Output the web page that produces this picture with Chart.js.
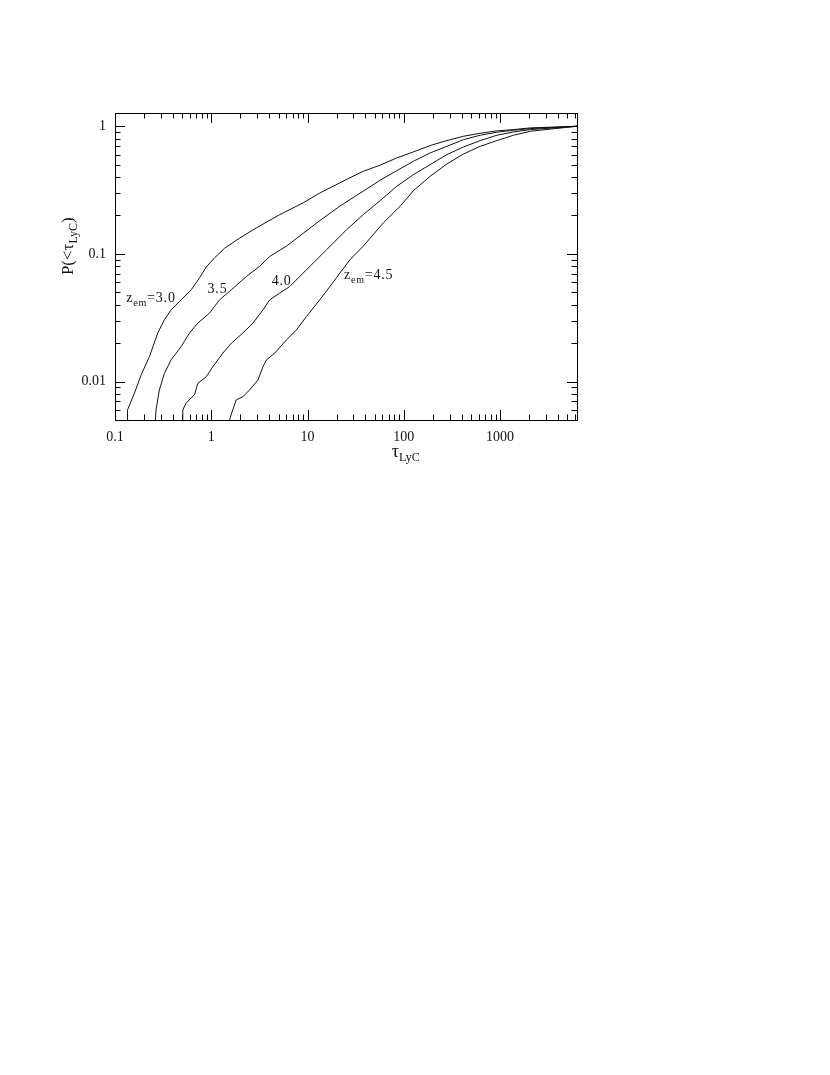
<!DOCTYPE html>
<html>
<head>
<meta charset="utf-8">
<script src="https://cdn.jsdelivr.net/npm/chart.js@4/dist/chart.umd.min.js"></script>
<style>
  html, body { margin: 0; padding: 0; background: #fff; }
  #wrap { width: 830px; height: 1075px; }
</style>
</head>
<body>
<div id="wrap"><canvas id="cdfChart" width="830" height="1075"></canvas></div>
<script>
// Cumulative distributions P(<tau_LyC) for four emission redshifts
const z30Tau = [0.135, 0.135, 0.159, 0.187, 0.228, 0.278, 0.326, 0.383, 0.487, 0.619, 0.756, 0.887, 1.08, 1.38, 1.97, 2.94, 5.14, 9.0, 13.4, 26.5, 37.9, 56.6, 84.6, 126, 188, 281, 418, 624, 931, 1387, 2070, 6300];
const z30P   = [0.005, 0.006, 0.0081, 0.0113, 0.0157, 0.024, 0.0305, 0.0365, 0.0437, 0.0524, 0.065, 0.079, 0.093, 0.111, 0.133, 0.160, 0.203, 0.251, 0.30, 0.389, 0.444, 0.495, 0.565, 0.630, 0.706, 0.773, 0.835, 0.882, 0.920, 0.942, 0.971, 1.0];

const z35Tau = [0.263, 0.267, 0.289, 0.326, 0.383, 0.487, 0.594, 0.725, 0.96, 1.22, 1.62, 2.32, 3.18, 4.05, 6.04, 9.0, 13.4, 21.7, 37.9, 56.6, 84.6, 126, 188, 281, 418, 624, 931, 1387, 2070, 6300];
const z35P   = [0.005, 0.006, 0.0086, 0.0116, 0.0148, 0.0188, 0.024, 0.0287, 0.0344, 0.0437, 0.0524, 0.0666, 0.080, 0.0955, 0.115, 0.145, 0.182, 0.237, 0.31, 0.377, 0.449, 0.532, 0.618, 0.697, 0.786, 0.851, 0.898, 0.931, 0.959, 1.0];

const z40Tau = [0.499, 0.506, 0.549, 0.67, 0.725, 0.887, 1.04, 1.32, 1.62, 2.13, 2.71, 3.45, 4.05, 5.14, 6.54, 8.3, 10.6, 15.8, 25.5, 37.9, 56.6, 84.6, 126, 188, 281, 418, 624, 931, 1387, 2070, 6300];
const z40P   = [0.005, 0.006, 0.0068, 0.0079, 0.0097, 0.0109, 0.0131, 0.0167, 0.020, 0.024, 0.0287, 0.0365, 0.0437, 0.0493, 0.0556, 0.0666, 0.08, 0.108, 0.155, 0.203, 0.261, 0.339, 0.418, 0.501, 0.600, 0.689, 0.773, 0.851, 0.903, 0.942, 1.0];

const z45Tau = [1.55, 1.62, 1.82, 2.13, 2.5, 3.06, 3.45, 3.74, 4.56, 6.04, 7.68, 9.77, 13.4, 17.1, 21.7, 27.6, 37.9, 61.3, 91.5, 126, 188, 281, 418, 624, 931, 1387, 2070, 6300];
const z45P   = [0.005, 0.0056, 0.0072, 0.0076, 0.0086, 0.0103, 0.0131, 0.0148, 0.0167, 0.0212, 0.0254, 0.0324, 0.0437, 0.0556, 0.0708, 0.090, 0.115, 0.175, 0.236, 0.313, 0.406, 0.507, 0.607, 0.697, 0.773, 0.851, 0.914, 1.0];

// axis ticks
const xTicks = [0.1, 1, 10, 100, 1000];
const xTickLabels = ['0.1', '1', '10', '100', '1000'];
const yTicks = [0.01, 0.1, 1];
const yTickLabels = ['0.01', '0.1', '1'];

// curve labels: main text, subscript, rest, anchored at (tau, P)
const curveLabelTau = [0.131, 0.915, 4.25, 23.9];
const curveLabelP = [0.0445, 0.0524, 0.0605, 0.0675];
const curveLabelText = [['z', 'em', '=3.0'], ['', '', '3.5'], ['', '', '4.0'], ['z', 'em', '=4.5']];

const X_MIN = 0.1, X_MAX = 6300;
const Y_MIN = 0.005, Y_MAX = 1.27;
const FONT = "'Liberation Serif', 'DejaVu Serif', serif";

function toPoints(xs, ys) {
    return xs.map((x, i) => ({ x: x, y: ys[i] }));
}

function curve(xs, ys) {
    return {
        data: toPoints(xs, ys),
        borderColor: '#111',
        borderWidth: 1,
        pointRadius: 0,
        tension: 0,
        fill: false
    };
}

// draws text made of [main, subscript, main] pieces, left anchored
function drawRich(ctx, pieces, x, y, size, subSize) {
    let cx = x;
    pieces.forEach((p, i) => {
        if (!p) return;
        const sub = i === 1;
        ctx.font = (sub ? subSize : size) + 'px ' + FONT;
        ctx.fillText(p, cx, sub ? y + size * 0.3 : y);
        cx += ctx.measureText(p).width;
    });
    return cx - x;
}

function richWidth(ctx, pieces, size, subSize) {
    let w = 0;
    pieces.forEach((p, i) => {
        if (!p) return;
        ctx.font = (i === 1 ? subSize : size) + 'px ' + FONT;
        w += ctx.measureText(p).width;
    });
    return w;
}

const frameTicks = {
    id: 'frameTicks',
    afterDraw(chart) {
        const ctx = chart.ctx;
        const a = chart.chartArea;
        const xs = chart.scales.x, ys = chart.scales.y;
        ctx.save();
        ctx.strokeStyle = '#000';
        ctx.lineWidth = 1;
        ctx.strokeRect(Math.round(a.left) + 0.5, Math.round(a.top) + 0.5,
            Math.round(a.right - a.left), Math.round(a.bottom - a.top));

        ctx.beginPath();
        for (let d = -1; d <= 3; d++) {
            for (let m = 1; m <= 9; m++) {
                const v = m * Math.pow(10, d);
                if (v < X_MIN || v > X_MAX) continue;
                const px = Math.round(xs.getPixelForValue(v)) + 0.5;
                const len = m === 1 ? 10 : 5.5;
                ctx.moveTo(px, a.bottom); ctx.lineTo(px, a.bottom - len);
                ctx.moveTo(px, a.top); ctx.lineTo(px, a.top + len);
            }
        }
        for (let d = -3; d <= 0; d++) {
            for (let m = 1; m <= 9; m++) {
                const v = m * Math.pow(10, d);
                if (v < Y_MIN || v > Y_MAX) continue;
                const py = Math.round(ys.getPixelForValue(v)) + 0.5;
                const len = m === 1 ? 10 : 5.5;
                ctx.moveTo(a.left, py); ctx.lineTo(a.left + len, py);
                ctx.moveTo(a.right, py); ctx.lineTo(a.right - len, py);
            }
        }
        ctx.stroke();

        ctx.fillStyle = '#111';
        ctx.textBaseline = 'middle';
        ctx.textAlign = 'left';
        ctx.letterSpacing = '0.8px';
        curveLabelText.forEach((t, i) => {
            drawRich(ctx, t, xs.getPixelForValue(curveLabelTau[i]), ys.getPixelForValue(curveLabelP[i]), 14, 10);
        });
        ctx.letterSpacing = '0px';

        // x title, centred under tau = 100
        const xt = ['\u03C4', 'LyC', ''];
        const xw = richWidth(ctx, xt, 18, 12);
        drawRich(ctx, xt, xs.getPixelForValue(100) - xw / 2 + 2, a.bottom + 32, 18, 12);

        // y title, rotated
        const yt = ['P(<\u03C4', 'LyC', ')'];
        const yw = richWidth(ctx, yt, 17, 12);
        ctx.translate(a.left - 46, ys.getPixelForValue(0.115));
        ctx.rotate(-Math.PI / 2);
        drawRich(ctx, yt, -yw / 2, 0, 17, 12);
        ctx.restore();
    }
};

function initChart() {
    const ctx = document.getElementById('cdfChart');
    new Chart(ctx, {
        type: 'line',
        data: {
            datasets: [
                curve(z30Tau, z30P),
                curve(z35Tau, z35P),
                curve(z40Tau, z40P),
                curve(z45Tau, z45P)
            ]
        },
        options: {
            responsive: false,
            animation: false,
            layout: { padding: { left: 0, top: 113, right: 253, bottom: 610 } },
            plugins: { legend: { display: false }, tooltip: { enabled: false } },
            scales: {
                x: {
                    type: 'logarithmic',
                    min: X_MIN,
                    max: X_MAX,
                    afterBuildTicks: s => { s.ticks = xTicks.map(v => ({ value: v })); },
                    afterFit: s => { s.height = 45; },
                    grid: { display: false, drawTicks: false },
                    border: { display: false },
                    ticks: {
                        autoSkip: false,
                        maxRotation: 0,
                        padding: 9,
                        color: '#111',
                        font: { family: FONT, size: 14 },
                        callback: (v, i) => xTickLabels[i]
                    }
                },
                y: {
                    type: 'logarithmic',
                    min: Y_MIN,
                    max: Y_MAX,
                    afterBuildTicks: s => { s.ticks = yTicks.map(v => ({ value: v })); },
                    afterFit: s => { s.width = 115; },
                    grid: { display: false, drawTicks: false },
                    border: { display: false },
                    ticks: {
                        autoSkip: false,
                        padding: 9,
                        color: '#111',
                        font: { family: FONT, size: 14 },
                        callback: (v, i) => yTickLabels[i]
                    }
                }
            }
        },
        plugins: [frameTicks]
    });
}

document.addEventListener('DOMContentLoaded', initChart);
</script>
</body>
</html>
